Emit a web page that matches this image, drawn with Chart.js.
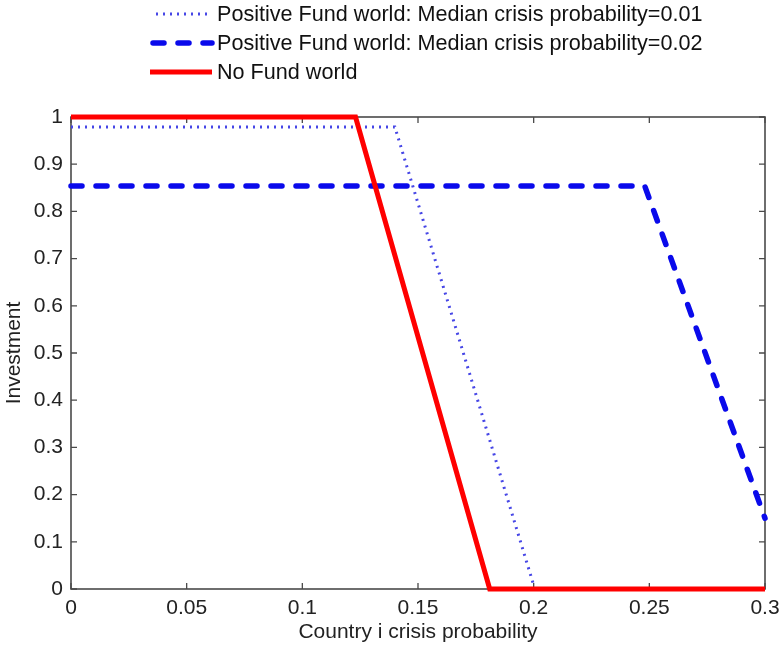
<!DOCTYPE html>
<html><head><meta charset="utf-8">
<script src="https://cdn.jsdelivr.net/npm/chart.js@4.4.0/dist/chart.umd.min.js"></script>
<style>html,body{margin:0;padding:0;background:#fff}#wrap{width:779px;height:645px;position:relative}canvas{display:block}</style>
</head><body><div id="wrap"><canvas id="c" width="779" height="645"></canvas></div>
<script>
const seriesNames = [
  'Positive Fund world: Median crisis probability=0.01',
  'Positive Fund world: Median crisis probability=0.02',
  'No Fund world'
];
const fund01X = [0, 0.140, 0.2005];
const fund01Y = [0.979, 0.979, 0];
const fund02X = [0, 0.248, 0.3];
const fund02Y = [0.854, 0.854, 0.15];
const noFundX = [0, 0.123, 0.181, 0.3];
const noFundY = [1, 1, 0, 0];
const xTicks = [0, 0.05, 0.1, 0.15, 0.2, 0.25, 0.3];
const xTickLabels = ['0', '0.05', '0.1', '0.15', '0.2', '0.25', '0.3'];
const yTicks = [0, 0.1, 0.2, 0.3, 0.4, 0.5, 0.6, 0.7, 0.8, 0.9, 1];
const yTickLabels = ['0', '0.1', '0.2', '0.3', '0.4', '0.5', '0.6', '0.7', '0.8', '0.9', '1'];
const xTitle = 'Country i crisis probability';
const yTitle = 'Investment';

const FONT = '"Liberation Sans", Arial, Helvetica, sans-serif';
const pts = (xs, ys) => xs.map((v, i) => ({x: v, y: ys[i]}));

const styles = [
  {color: 'rgb(70,70,230)', width: 3, dash: [2, 5], cap: 'butt'},
  {color: 'rgb(10,10,235)', width: 5.5, dash: [11, 14], cap: 'round'},
  {color: 'rgb(255,0,0)', width: 5, dash: [], cap: 'butt'}
];

const frame = {
  id: 'frame',
  beforeDatasetsDraw(chart) {
    const {ctx, chartArea: a, scales: {x, y}} = chart;
    ctx.save();
    ctx.strokeStyle = '#4a4a4a';
    ctx.lineWidth = 1.6;
    ctx.strokeRect(a.left, a.top, a.right - a.left, a.bottom - a.top);
    ctx.lineWidth = 1.3;
    ctx.beginPath();
    x.ticks.forEach(t => {
      const p = x.getPixelForValue(t.value);
      ctx.moveTo(p, a.bottom); ctx.lineTo(p, a.bottom - 6);
      ctx.moveTo(p, a.top); ctx.lineTo(p, a.top + 6);
    });
    y.ticks.forEach(t => {
      const p = y.getPixelForValue(t.value);
      ctx.moveTo(a.left, p); ctx.lineTo(a.left + 6, p);
      ctx.moveTo(a.right, p); ctx.lineTo(a.right - 6, p);
    });
    ctx.stroke();
    ctx.restore();
  }
};

const legendPlugin = {
  id: 'topLegend',
  afterDraw(chart) {
    const ctx = chart.ctx;
    const rows = [14, 43, 72];
    ctx.save();
    seriesNames.forEach((name, i) => {
      const s = styles[i];
      const yy = rows[i];
      ctx.beginPath();
      ctx.strokeStyle = s.color;
      ctx.lineWidth = s.width;
      ctx.setLineDash(s.dash);
      ctx.lineCap = s.cap;
      const x0 = i === 0 ? 156 : (i === 1 ? 153 : 150);
      ctx.moveTo(x0, yy); ctx.lineTo(212, yy);
      ctx.stroke();
      ctx.setLineDash([]);
      ctx.fillStyle = '#111';
      ctx.font = '21.6px ' + FONT;
      ctx.textBaseline = 'middle';
      ctx.textAlign = 'left';
      ctx.fillText(name, 217, yy + 1);
    });
    ctx.restore();
  }
};

const mk = (i, xs, ys, order) => ({
  label: seriesNames[i],
  data: pts(xs, ys),
  borderColor: styles[i].color,
  borderWidth: styles[i].width,
  borderDash: styles[i].dash,
  borderCapStyle: styles[i].cap,
  borderJoinStyle: 'miter',
  pointRadius: 0,
  tension: 0,
  fill: false,
  clip: false,
  order: order
});

new Chart(document.getElementById('c'), {
  type: 'line',
  data: {
    datasets: [
      mk(0, fund01X, fund01Y, 3),
      mk(1, fund02X, fund02Y, 2),
      mk(2, noFundX, noFundY, 1)
    ]
  },
  options: {
    responsive: false,
    animation: false,
    layout: {padding: {left: 0, right: 14, top: 117, bottom: 0}},
    plugins: {legend: {display: false}, tooltip: {enabled: false}},
    scales: {
      x: {
        type: 'linear', min: 0, max: 0.3,
        afterBuildTicks: s => { s.ticks = xTicks.map(v => ({value: v})); },
        afterFit: s => { s.height = 56; s.paddingLeft = 0; s.paddingRight = 0; },
        grid: {display: false, drawTicks: false},
        border: {display: false},
        ticks: {
          callback: (v, i) => xTickLabels[i],
          font: {family: FONT, size: 21}, color: '#222', padding: 7,
          maxRotation: 0, autoSkip: false
        },
        title: {display: true, text: xTitle, font: {family: FONT, size: 21}, color: '#222', padding: {top: 0, bottom: 0}}
      },
      y: {
        type: 'linear', min: 0, max: 1,
        afterBuildTicks: s => { s.ticks = yTicks.map(v => ({value: v})); },
        afterFit: s => { s.width = 71; s.paddingTop = 0; s.paddingBottom = 0; },
        grid: {display: false, drawTicks: false},
        border: {display: false},
        ticks: {
          callback: (v, i) => yTickLabels[i],
          font: {family: FONT, size: 21}, color: '#222', padding: 8,
          autoSkip: false
        },
        title: {display: true, text: yTitle, font: {family: FONT, size: 21}, color: '#222', padding: {top: 2, bottom: 0}}
      }
    }
  },
  plugins: [frame, legendPlugin]
});
</script>
</body></html>
